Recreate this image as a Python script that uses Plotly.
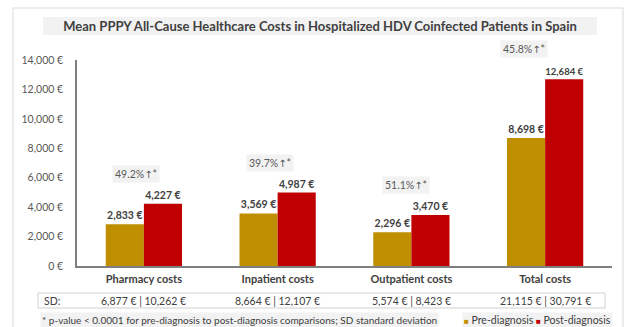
import plotly.graph_objects as go

# ---- data ----
categories = ["Pharmacy costs", "Inpatient costs", "Outpatient costs", "Total costs"]
pre_diagnosis = [2833, 3569, 2296, 8698]
post_diagnosis = [4227, 4987, 3470, 12684]
sd_pre = [6877, 8664, 5574, 21115]
sd_post = [10262, 12107, 8423, 30791]
y_tick_values = [0, 2000, 4000, 6000, 8000, 10000, 12000, 14000]

# ---- geometry helpers (figure pixels -> paper coords) ----
W, H = 629, 327
L, R, T, B = 77, 17, 60, 61
PW, PH = W - L - R, H - T - B


def px(x):
    return (x - L) / PW


def py(y):
    return (H - B - y) / PH


FONT = "Lato, 'Open Sans', sans-serif"
GOLD = "#BF8F00"
RED = "#C00000"
DARK = "#404040"
GREY_TXT = "#595959"
PANEL = "#F2F2F2"
ARROW = '<span style="font-family:DejaVu Sans;font-size:10px">↑</span>'

fig = go.Figure()
for name, vals, col in (("Pre-diagnosis", pre_diagnosis, GOLD),
                        ("Post-diagnosis", post_diagnosis, RED)):
    fig.add_trace(go.Bar(
        x=categories, y=vals, name=name,
        marker=dict(color=col, line=dict(width=0)),
        texttemplate="%{y:,} €", textposition="outside",
        textfont=dict(family=FONT, size=10.5, color=DARK, weight="bold"),
        cliponaxis=False,
    ))

annotations = []

# percentage increase above each pair
pct_xshift = [-8, -8, -5, -21]
for cat, a, b, dx in zip(categories, pre_diagnosis, post_diagnosis, pct_xshift):
    pct = (b - a) / a * 100
    annotations.append(dict(
        x=cat, y=b, xref="x", yref="y", text=f"{pct:.1f}%{ARROW}*",
        showarrow=False, yshift=30, xshift=dx, yanchor="middle",
        bgcolor=PANEL, borderpad=2,
        font=dict(family=FONT, size=10.5, color=GREY_TXT),
    ))

# SD row
annotations.append(dict(
    x=px(52), y=py(300.5), xref="paper", yref="paper", text="SD:",
    xanchor="center", yanchor="middle", showarrow=False,
    font=dict(family=FONT, size=10.5, color=DARK),
))
for cat, s1, s2 in zip(categories, sd_pre, sd_post):
    annotations.append(dict(
        x=cat, y=py(300.5), xref="x", yref="paper",
        xanchor="center", yanchor="middle",
        text=f"{s1:,} € | {s2:,} €", showarrow=False,
        font=dict(family=FONT, size=10.5, color=DARK),
    ))

# footnote
annotations.append(dict(
    x=px(40), y=py(320), xref="paper", yref="paper",
    xanchor="left", yanchor="middle",
    text="* p-value < 0.0001 for pre-diagnosis to post-diagnosis comparisons; SD standard deviation",
    showarrow=False, bgcolor=PANEL, borderpad=1,
    font=dict(family=FONT, size=10, color=DARK),
))

# legend key
annotations.append(dict(
    x=px(613), y=py(320), xref="paper", yref="paper",
    xanchor="right", yanchor="middle",
    text=(f'<span style="color:{GOLD};font-size:8px">■</span> Pre-diagnosis '
          f'<span style="color:{RED};font-size:8px">■</span> Post-diagnosis'),
    showarrow=False, bgcolor=PANEL, borderpad=1,
    font=dict(family=FONT, size=10.5, color=DARK),
))

shapes = [
    # outer frame
    dict(type="rect", xref="paper", yref="paper",
         x0=px(13), x1=px(623), y0=py(8), y1=py(335),
         line=dict(color="#D9D9D9", width=1), fillcolor="rgba(0,0,0,0)", layer="below"),
    # title panel
    dict(type="rect", xref="paper", yref="paper",
         x0=px(43), x1=px(597), y0=py(17), y1=py(35),
         line=dict(width=0), fillcolor=PANEL, layer="below"),
    # SD box
    dict(type="rect", xref="paper", yref="paper",
         x0=px(38), x1=px(605), y0=py(293), y1=py(308),
         line=dict(color="#D0D0D0", width=1), fillcolor="rgba(0,0,0,0)"),
]

fig.update_layout(
    width=W, height=H,
    margin=dict(l=L, r=R, t=T, b=B, pad=0),
    paper_bgcolor="white", plot_bgcolor="white",
    barmode="group", bargap=0.43, bargroupgap=0,
    showlegend=False,
    title=dict(
        text="<b>Mean PPPY All-Cause Healthcare Costs in Hospitalized HDV Coinfected Patients in Spain</b>",
        x=320 / W, xref="container", xanchor="center",
        y=1 - 26 / H, yref="container", yanchor="middle",
        font=dict(family=FONT, size=13, color=DARK),
    ),
    xaxis=dict(
        tickvals=categories,
        ticktext=[f"<b>{c}</b>" for c in categories],
        showline=True, linecolor="#7F7F7F", linewidth=1.5,
        showgrid=False, ticks="", ticklabelstandoff=2,
        tickfont=dict(family=FONT, size=11, color=DARK),
    ),
    yaxis=dict(
        range=[0, 14000], tickvals=y_tick_values,
        ticktext=[f"{v:,} €" for v in y_tick_values],
        showline=True, linecolor="#7F7F7F", linewidth=1.5,
        showgrid=False, zeroline=False, ticks="", ticklabelstandoff=10,
        tickfont=dict(family=FONT, size=10.5, color=GREY_TXT),
    ),
    annotations=annotations,
    shapes=shapes,
    font=dict(family=FONT),
)

fig.write_html("out.html")
